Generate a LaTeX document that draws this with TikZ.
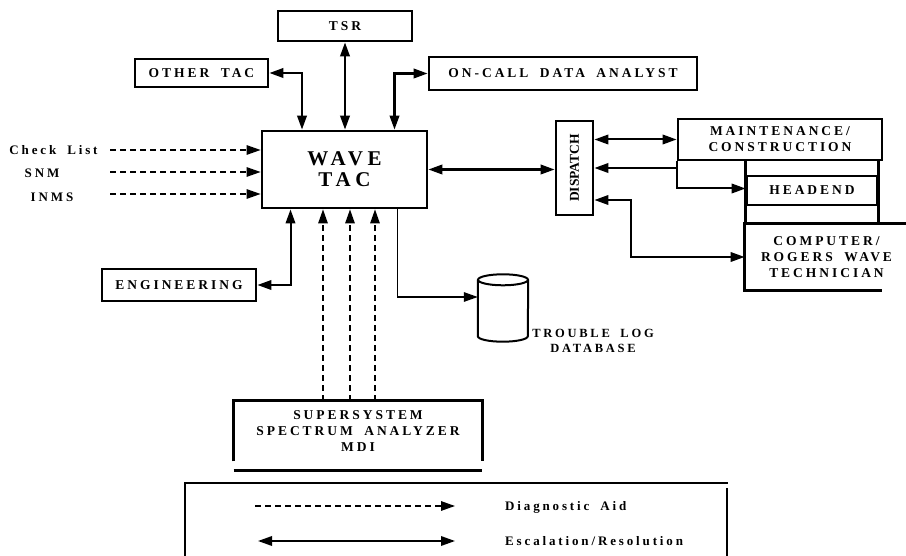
\documentclass[tikz,border=0pt]{standalone}
\usepackage{fontspec}
\setmainfont{Liberation Serif}
\newfontfamily\capsfont[LetterSpace=22, WordSpace=1.8]{Liberation Serif}
\usepackage{graphicx}
\usetikzlibrary{arrows.meta, positioning, calc}

\begin{document}
\begin{tikzpicture}[x=1pt, y=-1pt,
    box/.style={draw, line width=2.8pt, inner sep=0pt, align=center,
                font=\capsfont\bfseries\fontsize{13.5}{16}\selectfont},
    boxline/.style={line width=2.8pt},
    lbl/.style={inner sep=0pt, align=center, font=\capsfont\bfseries\fontsize{13}{15}\selectfont},
    esc/.style={{Triangle[length=14pt,width=9.5pt]}-{Triangle[length=14pt,width=9.5pt]}, line width=2.2pt},
    oneway/.style={-{Triangle[length=14pt,width=9.5pt]}, line width=2pt},
    diag/.style={-{Triangle[length=14pt,width=9.5pt]}, line width=1.4pt, dash pattern=on 6pt off 4pt}
]
    \useasboundingbox (0,0) rectangle (906,556);

    % boxes
    \node[box, minimum width=134, minimum height=30] (tsr) at (345,26) {TSR};
    \node[box, minimum width=133, minimum height=28] (other) at (201.5,73) {OTHER TAC};
    \node[box, minimum width=268, minimum height=33] (oncall) at (563,73.5) {ON-CALL DATA ANALYST};
    \node[box, minimum width=165, minimum height=77,
          font=\capsfont\bfseries\fontsize{21}{21}\selectfont] (wave) at (344.5,169.5) {WAVE\\TAC};
    \node[box, minimum width=154, minimum height=32] (eng) at (179,285) {ENGINEERING};
    \node[box, minimum width=37, minimum height=94,
          font=\bfseries\fontsize{13.5}{15}\selectfont] (dispatch) at (574.5,168) {\rotatebox{90}{DISPATCH}};
    \node[box, minimum width=204, minimum height=41] (maint) at (780,139.5) {MAINTENANCE/\\CONSTRUCTION};
    \node[box, minimum width=130, minimum height=29] (headend) at (812,190.5) {HEADEND};
    \node[box, draw=none, minimum width=161, minimum height=64] (computer) at (826.5,257)
        {COMPUTER/\\ROGERS WAVE\\TECHNICIAN};
    \draw[boxline] (computer.north east) -- (computer.north west) -- (computer.south west)
        -- ([xshift=-26pt]computer.south east);
    \draw[boxline] (headend.west |- maint.south) -- (headend.west |- computer.north);
    \draw[boxline] (headend.east |- maint.south) -- (headend.east |- computer.north);

    \node[box, draw=none, minimum width=246, minimum height=58] (super) at (358,431)
        {SUPERSYSTEM\\SPECTRUM ANALYZER\\MDI};
    \draw[boxline] (super.south west) -- (super.north west) -- (super.north east) -- (super.south east);
    \draw[boxline] ([yshift=-9pt]super.south west) -- ([yshift=-9pt]super.south east);

    % trouble log
    \node[minimum width=50, minimum height=68, inner sep=0pt] (db) at (503,308) {};
    \draw[line width=2pt] ([yshift=-6pt]db.north west) -- ([yshift=6pt]db.south west)
        arc[start angle=180, end angle=0, x radius=25, y radius=5.5] -- ([yshift=-6pt]db.north east);
    \draw[line width=2pt] (db.north) ++(0,6) ellipse [x radius=25, y radius=5.5];
    \node[lbl, font=\capsfont\bfseries\fontsize{12.5}{15}\selectfont] (dblabel) at (593,341) {TROUBLE LOG\\DATABASE};

    % inputs on the left
    \node[lbl] (chk) at (53.5,150) {Check List};
    \node[lbl] (snm) at (42,173) {SNM};
    \node[lbl] (inms) at (52,197) {INMS};
    \foreach \n/\y in {chk/150, snm/172, inms/194} {
        \coordinate (\n-s) at (110,\y);
        \draw[diag] (\n-s) -- (\n-s -| wave.west);
    }

    % escalation paths
    \draw[esc] (other.east) -| ([xshift=-42.5pt]wave.north);
    \draw[esc] (tsr.south) -- (tsr.south |- wave.north);
    \draw[esc] ([xshift=50pt]wave.north) |- (oncall.west);
    \draw[esc, line width=2pt] (eng.east) -| ([xshift=-54pt]wave.south);
    \draw[esc] (wave.east) -- (wave.east -| dispatch.west);
    \draw[esc, line width=2pt] (maint.west -| dispatch.east) -- (maint.west);
    \draw[oneway, line width=2.2pt] (maint.west |- dispatch.east) -- (dispatch.east);
    \draw[oneway] (maint.south west) |- ([yshift=2pt]headend.west);
    \draw[esc, line width=2pt] ([yshift=-32pt]dispatch.east) -- ++(37,0) |- (computer.west);
    \draw[oneway, line width=1.4pt] ([xshift=53pt]wave.south) |- ([yshift=11pt]db.west);

    % diagnostic feeds from below
    \foreach \dx in {-35,-8,17}
        \draw[diag] ([xshift=\dx pt]super.north) -- ([xshift=\dx pt]super.north |- wave.south);

    % legend
    \draw[line width=2pt] (185,556) -- (185,483) -- (728,483);
    \draw[line width=1.3pt] (727,488) -- (727,556);
    \coordinate (diag-a) at (255,506);
    \coordinate (diag-b) at (455,506);
    \coordinate (esc-a) at (258,541);
    \coordinate (esc-b) at (455,541);
    \draw[diag] (diag-a) -- (diag-b);
    \draw[esc, line width=1.8pt] (esc-a) -- (esc-b);
    \node[lbl, anchor=west] (diaglbl) at (505,507) {Diagnostic Aid};
    \node[lbl, anchor=west] (esclbl) at (505,541) {Escalation/Resolution};
\end{tikzpicture}
\end{document}
